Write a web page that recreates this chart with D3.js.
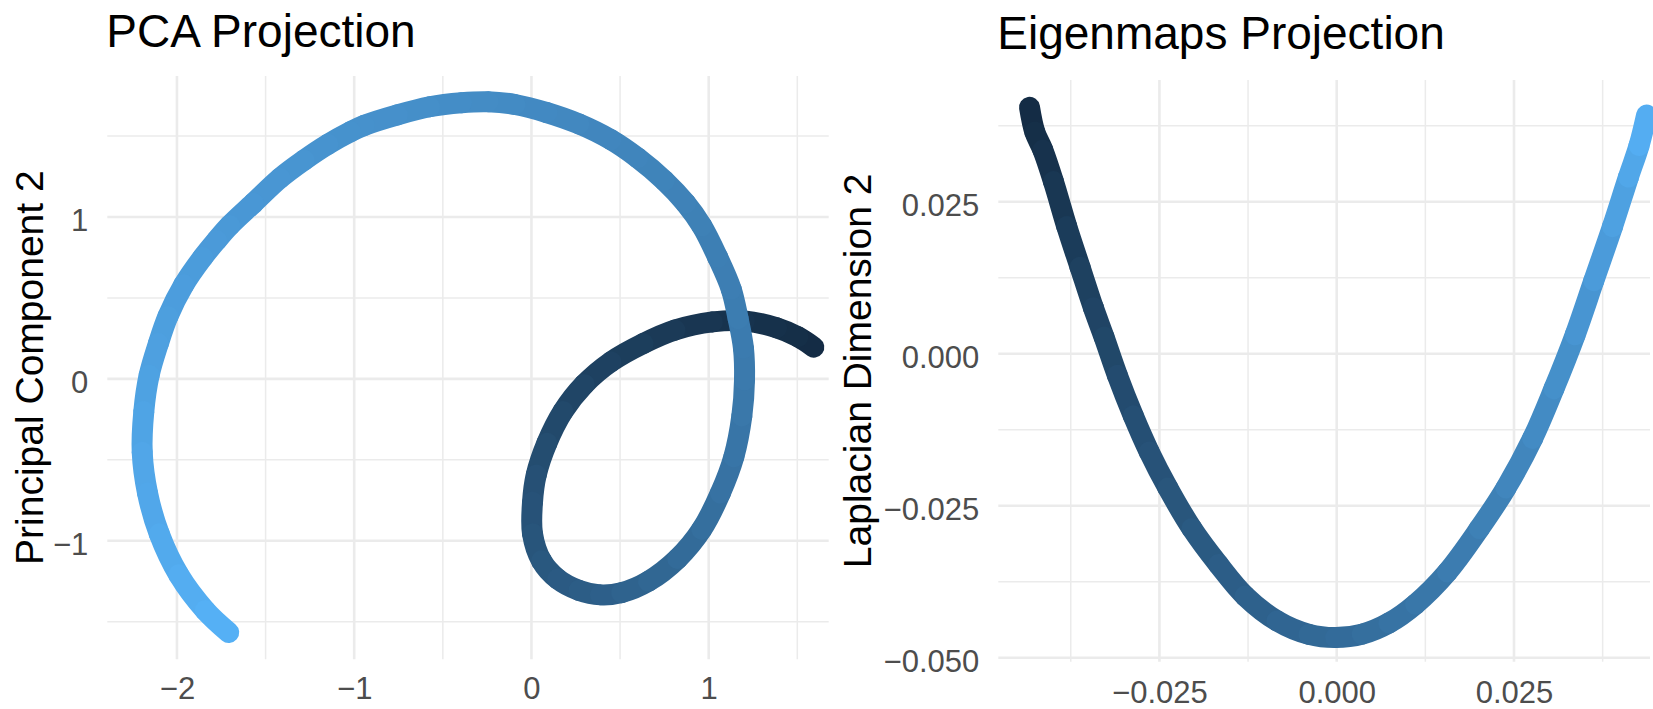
<!DOCTYPE html>
<html>
<head>
<meta charset="utf-8">
<script src="https://cdn.jsdelivr.net/npm/d3@7"></script>
<style>
  html, body { margin: 0; padding: 0; background: #fff; }
  svg { display: block; font-family: "Liberation Sans", Arial, Helvetica, sans-serif; }
</style>
</head>
<body>
<svg id="chart" width="1653" height="709"></svg>
<script>
// PCA projection, points (tone: 0 = dark, 1 = light)
const pcaX = [-1.708, -1.84, -1.99, -2.10, -2.166, -2.196, -2.187, -2.157, -2.105, -2.051,
  -1.961, -1.855, -1.777, -1.702, -1.569, -1.419, -1.283, -1.148, -1.020, -0.943,
  -0.756, -0.575, -0.395, -0.244, -0.093, 0.087, 0.268, 0.449, 0.599, 0.75,
  0.87, 0.961, 1.051, 1.127, 1.166, 1.196, 1.202, 1.187, 1.142, 1.066,
  0.961, 0.825, 0.660, 0.509, 0.389, 0.268, 0.148, 0.057, 0.006, 0.006,
  0.027, 0.087, 0.178, 0.298, 0.449, 0.63, 0.810, 1.021, 1.202, 1.383,
  1.503, 1.593];
const pcaY = [-1.566, -1.43, -1.21, -0.957, -0.705, -0.453, -0.201, 0.022, 0.218, 0.386,
  0.582, 0.750, 0.855, 0.948, 1.085, 1.239, 1.351, 1.449, 1.527, 1.566,
  1.631, 1.681, 1.706, 1.712, 1.695, 1.645, 1.575, 1.477, 1.365, 1.225,
  1.085, 0.945, 0.750, 0.554, 0.372, 0.190, -0.006, -0.229, -0.481, -0.705,
  -0.929, -1.11, -1.25, -1.32, -1.334, -1.306, -1.236, -1.124, -0.957, -0.761,
  -0.593, -0.397, -0.201, -0.034, 0.106, 0.218, 0.302, 0.352, 0.358, 0.316,
  0.260, 0.196];
const pcaTone = [1.0, 0.98, 0.96, 0.94, 0.93, 0.92, 0.90, 0.89, 0.88, 0.87,
  0.86, 0.85, 0.84, 0.83, 0.82, 0.81, 0.80, 0.79, 0.78, 0.775,
  0.77, 0.76, 0.75, 0.74, 0.73, 0.72, 0.71, 0.70, 0.69, 0.68,
  0.67, 0.66, 0.65, 0.64, 0.63, 0.62, 0.61, 0.59, 0.57, 0.55,
  0.52, 0.49, 0.46, 0.43, 0.41, 0.39, 0.37, 0.35, 0.33, 0.31,
  0.29, 0.26, 0.23, 0.20, 0.17, 0.14, 0.11, 0.08, 0.06, 0.04,
  0.02, 0.0];

// Laplacian eigenmaps projection
const lapX = [-0.04332, -0.04257, -0.04144, -0.03994, -0.03806, -0.03619, -0.03431, -0.03281,
  -0.03093, -0.02868, -0.02643, -0.0238, -0.02042, -0.01667, -0.01291, -0.00841,
  -0.0039, -0.00015, 0.0036, 0.00736, 0.01111, 0.01562, 0.02012, 0.02387,
  0.02763, 0.03063, 0.03363, 0.03626, 0.03889, 0.04114, 0.04264, 0.0437];
const lapY = [0.04054, 0.03646, 0.0335, 0.02831, 0.0209, 0.01423, 0.00756, 0.00274,
  -0.00356, -0.01023, -0.01616, -0.02209, -0.02876, -0.03468, -0.03987, -0.04395,
  -0.04617, -0.04669, -0.04612, -0.04430, -0.04120, -0.03590, -0.02876, -0.02209,
  -0.01393, -0.00578, 0.00311, 0.01201, 0.0209, 0.02905, 0.03424, 0.03926];
const lapTone = [0.0, 0.02, 0.04, 0.08, 0.12, 0.16, 0.20, 0.22,
  0.25, 0.28, 0.31, 0.33, 0.36, 0.39, 0.42, 0.45,
  0.48, 0.50, 0.52, 0.55, 0.58, 0.61, 0.65, 0.68,
  0.72, 0.75, 0.79, 0.83, 0.87, 0.91, 0.95, 1.0];

const pcaXTicks = [-2, -1, 0, 1];
const pcaXLabels = ['\u22122', '\u22121', '0', '1'];
const pcaXMinor = [-1.5, -0.5, 0.5, 1.5];
const pcaYTicks = [-1, 0, 1];
const pcaYLabels = ['\u22121', '0', '1'];
const pcaYMinor = [-1.5, -0.5, 0.5, 1.5];

const lapXTicks = [-0.025, 0, 0.025];
const lapXLabels = ['\u22120.025', '0.000', '0.025'];
const lapXMinor = [-0.0375, -0.0125, 0.0125, 0.0375];
const lapYTicks = [-0.05, -0.025, 0, 0.025];
const lapYLabels = ['\u22120.050', '\u22120.025', '0.000', '0.025'];
const lapYMinor = [-0.0375, -0.0125, 0.0125, 0.0375];

const GRID = '#EBEBEB';
const TICK_TEXT = '#4D4D4D';
const colour = d3.interpolateLab('#132B43', '#56B1F7');

const svg = d3.select('#chart');

const drawPanel = (cfg) => {
  const { left, right, top, bottom } = cfg.box;
  const x = d3.scaleLinear().domain(cfg.xDomain).range([left, right]);
  const y = d3.scaleLinear().domain(cfg.yDomain).range([bottom, top]);
  const g = svg.append('g');

  // grid: minor first, major on top
  const grid = g.append('g');
  grid.selectAll('line.vminor').data(cfg.xMinor).join('line')
    .attr('x1', d => x(d)).attr('x2', d => x(d)).attr('y1', top).attr('y2', bottom)
    .attr('stroke', GRID).attr('stroke-width', 1.5);
  grid.selectAll('line.hminor').data(cfg.yMinor).join('line')
    .attr('y1', d => y(d)).attr('y2', d => y(d)).attr('x1', left).attr('x2', right)
    .attr('stroke', GRID).attr('stroke-width', 1.5);
  grid.selectAll('line.vmajor').data(cfg.xTicks).join('line')
    .attr('x1', d => x(d)).attr('x2', d => x(d)).attr('y1', top).attr('y2', bottom)
    .attr('stroke', GRID).attr('stroke-width', 2.6);
  grid.selectAll('line.hmajor').data(cfg.yTicks).join('line')
    .attr('y1', d => y(d)).attr('y2', d => y(d)).attr('x1', left).attr('x2', right)
    .attr('stroke', GRID).attr('stroke-width', 2.6);

  // axes, text only
  const xAxis = g.append('g')
    .attr('transform', `translate(0,${bottom})`)
    .call(d3.axisBottom(x).tickValues(cfg.xTicks)
      .tickFormat((d, i) => cfg.xLabels[i]).tickSize(0).tickPadding(cfg.xPad));
  const yAxis = g.append('g')
    .attr('transform', `translate(${left},0)`)
    .call(d3.axisLeft(y).tickValues(cfg.yTicks)
      .tickFormat((d, i) => cfg.yLabels[i]).tickSize(0).tickPadding(19));
  [xAxis, yAxis].forEach(a => {
    a.select('.domain').remove();
    a.selectAll('text')
      .attr('fill', TICK_TEXT)
      .style('font-size', '31px')
      .style('font-family', '"Liberation Sans", Arial, Helvetica, sans-serif');
  });
  yAxis.selectAll('text').attr('dy', '0.43em');

  // the curve: each stretch between two read points is its own smooth piece,
  // so it can carry its own colour (lighter pieces drawn last)
  const pts = cfg.xs.map((v, i) => ({ x: v, y: cfg.ys[i], t: cfg.tones[i] }));
  const n = pts.length;
  const pieces = d3.range(n - 1).map(i => ({
    win: [pts[Math.max(i - 1, 0)], pts[i], pts[i + 1], pts[Math.min(i + 2, n - 1)]],
    t: (pts[i].t + pts[i + 1].t) / 2
  }));
  const piece = d3.line()
    .x(d => x(d.x))
    .y(d => y(d.y))
    .curve(d3.curveCatmullRomOpen);
  g.append('g').selectAll('path').data(d3.sort(pieces, p => p.t)).join('path')
    .attr('d', p => piece(p.win))
    .attr('fill', 'none')
    .attr('stroke', p => colour(p.t))
    .attr('stroke-width', 21)
    .attr('stroke-linecap', 'round');

  g.append('text')
    .attr('x', left - 1)
    .attr('y', cfg.titleY)
    .attr('fill', '#000')
    .style('font-size', '46px')
    .text(cfg.title);

  g.append('text')
    .attr('transform', `translate(${cfg.yTitleX},${(top + bottom) / 2}) rotate(-90)`)
    .attr('text-anchor', 'middle')
    .attr('fill', '#000')
    .style('font-size', '39px')
    .text(cfg.yTitle);
};

drawPanel({
  box: { left: 107.3, right: 828.7, top: 76, bottom: 659.3 },
  xDomain: [-2.393, 1.677],
  yDomain: [-1.732, 1.871],
  xTicks: pcaXTicks, xLabels: pcaXLabels, xMinor: pcaXMinor,
  yTicks: pcaYTicks, yLabels: pcaYLabels, yMinor: pcaYMinor,
  xs: pcaX, ys: pcaY, tones: pcaTone,
  xPad: 18,
  title: 'PCA Projection', titleY: 47,
  yTitle: 'Principal Component 2', yTitleX: 43
});

drawPanel({
  box: { left: 998.3, right: 1650, top: 80, bottom: 661.7 },
  xDomain: [-0.04772, 0.04418],
  yDomain: [-0.05066, 0.04502],
  xTicks: lapXTicks, xLabels: lapXLabels, xMinor: lapXMinor,
  yTicks: lapYTicks, yLabels: lapYLabels, yMinor: lapYMinor,
  xs: lapX, ys: lapY, tones: lapTone,
  xPad: 19,
  title: 'Eigenmaps Projection', titleY: 49,
  yTitle: 'Laplacian Dimension 2', yTitleX: 871
});
</script>
</body>
</html>
